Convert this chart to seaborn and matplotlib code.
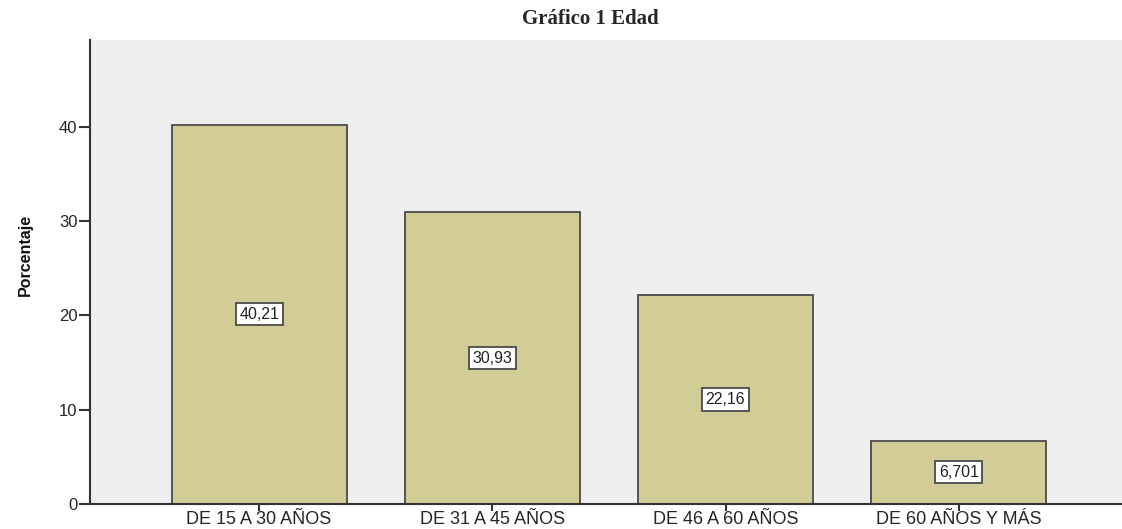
import matplotlib
matplotlib.use("Agg")
import matplotlib.pyplot as plt
import seaborn as sns
import pandas as pd

# data
categorias = ["DE 15 A 30 AÑOS", "DE 31 A 45 AÑOS", "DE 46 A 60 AÑOS", "DE 60 AÑOS Y MÁS"]
porcentajes = [40.21, 30.93, 22.16, 6.701]
etiquetas = ["40,21", "30,93", "22,16", "6,701"]

df = pd.DataFrame({"Edad": categorias, "Porcentaje": porcentajes})

sns.set_theme(style="white")
plt.rcParams["font.family"] = ["Liberation Sans", "DejaVu Sans"]

fig = plt.figure(figsize=(11.22, 5.29), dpi=100)
ax = fig.add_axes([0.0802, 0.0473, 0.9198, 0.8771])
ax.set_facecolor("#efefef")

sns.barplot(data=df, x="Edad", y="Porcentaje", color="#d2cd96", width=0.75,
            edgecolor="#4a4a4a", linewidth=1.3, saturation=1, ax=ax)

for i, (v, txt) in enumerate(zip(porcentajes, etiquetas)):
    ax.text(i, v / 2, txt, ha="center", va="center", fontsize=11.5, color="#222222",
            bbox=dict(boxstyle="square,pad=0.22", facecolor="white", edgecolor="#555555", linewidth=1.4))

ax.set_xlim(-0.725, 3.70)
ax.set_ylim(0, 49.2)
ax.set_yticks([0, 10, 20, 30, 40])

for side in ["top", "right"]:
    ax.spines[side].set_visible(False)
for side in ["left", "bottom"]:
    ax.spines[side].set_color("#333333")
    ax.spines[side].set_linewidth(1.5)

ax.tick_params(axis="y", direction="out", length=8, width=1.5, color="#333333",
               labelsize=12, pad=1, left=True)
ax.tick_params(axis="x", direction="out", length=5, width=1.5, color="#333333",
               labelsize=13, pad=0, bottom=True)

ax.set_xlabel("")
ax.set_ylabel("Porcentaje", fontsize=11.5, fontweight="bold", color="#111111")
ax.yaxis.set_label_coords(-0.055, 0.537)

fig.text(0.526, 0.965, "Gráfico 1 Edad", ha="center", va="center", fontsize=15,
         fontweight="bold", family=["Liberation Serif", "DejaVu Serif"])

fig.savefig("out.png", dpi=100)
